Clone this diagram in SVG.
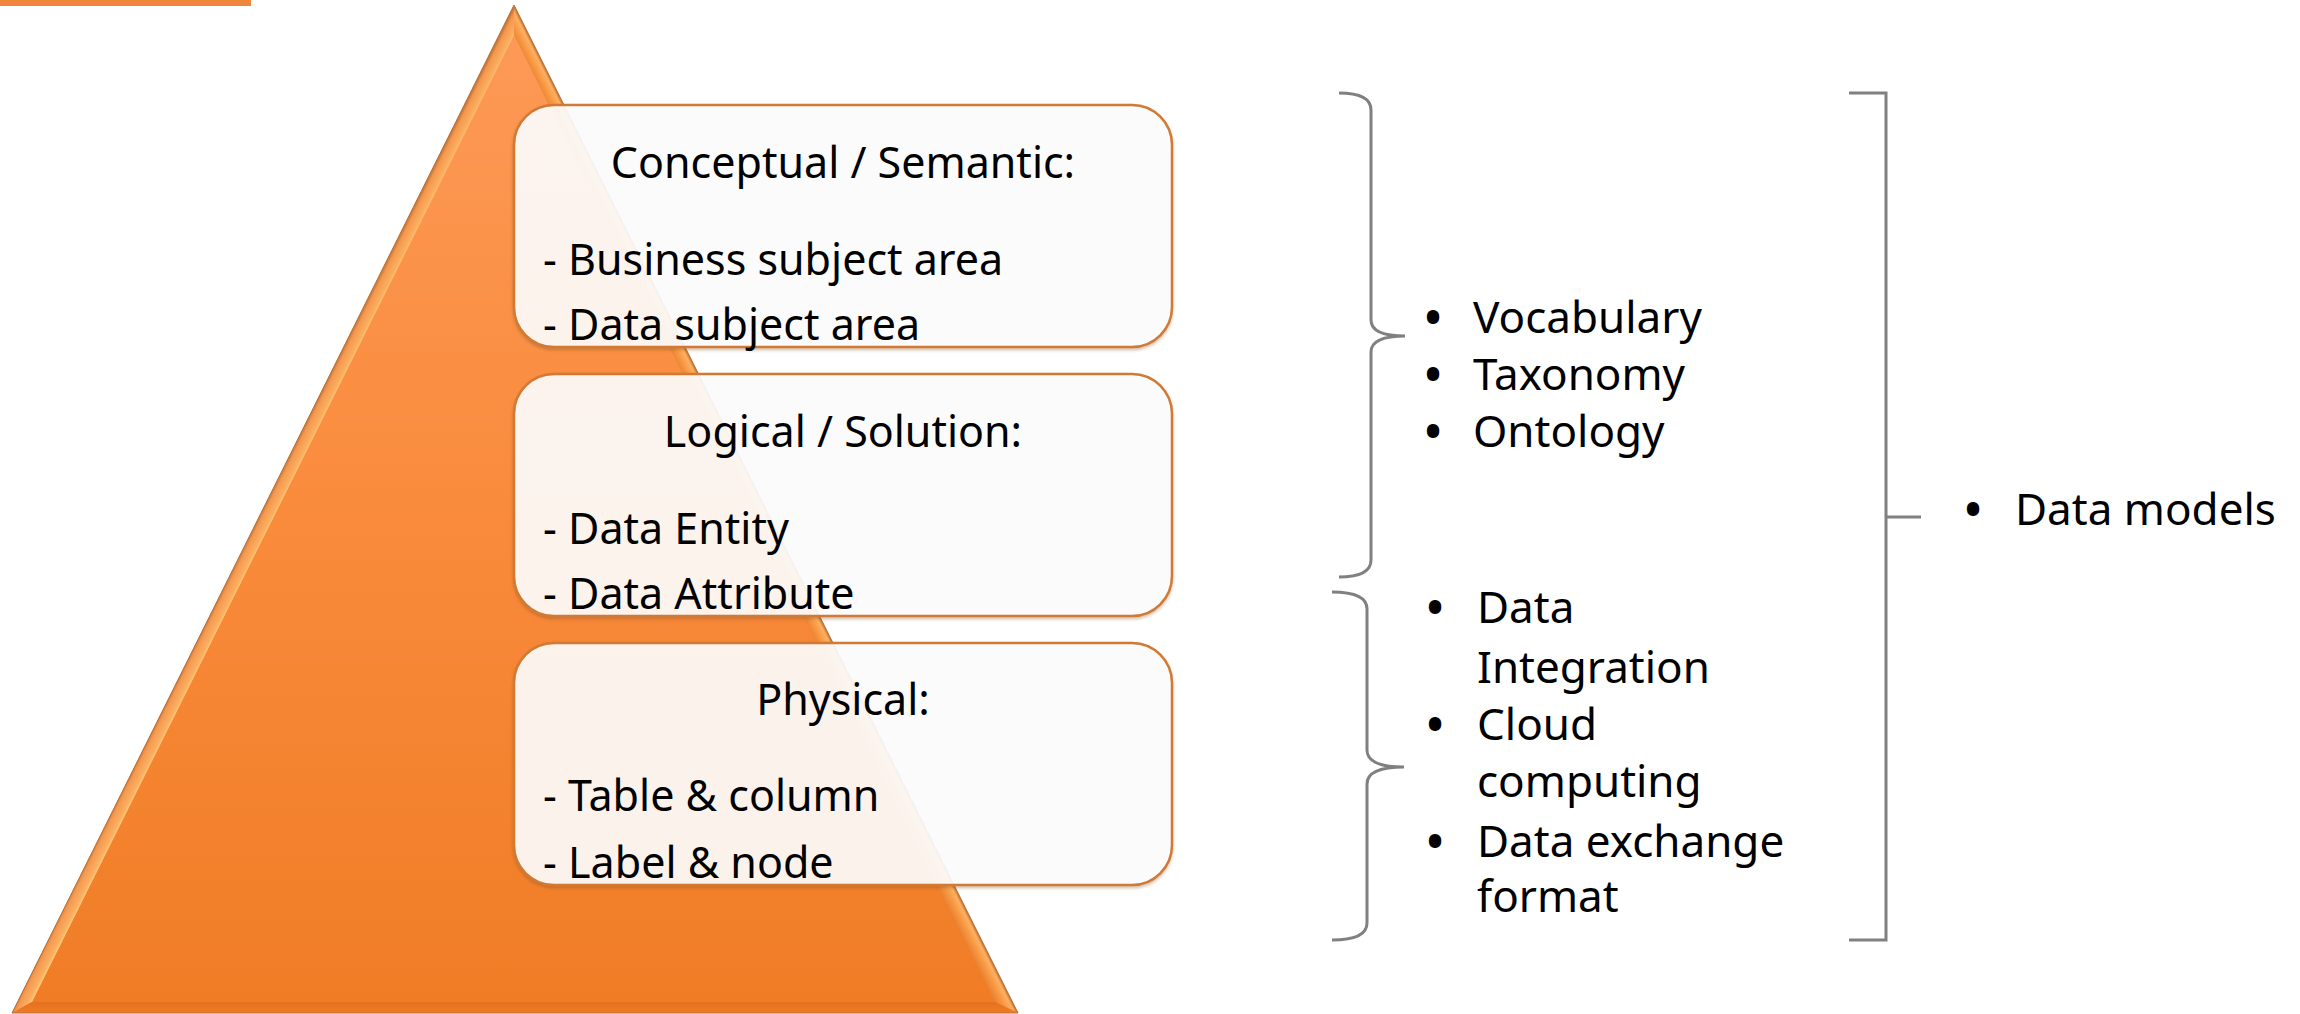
<svg xmlns="http://www.w3.org/2000/svg" width="2300" height="1014" viewBox="0 0 2300 1014">
<defs>
<linearGradient id="triFill" x1="0" y1="0" x2="0" y2="1">
<stop offset="0" stop-color="#FD9A58"/>
<stop offset="0.5" stop-color="#F98B3C"/>
<stop offset="1" stop-color="#F07C25"/>
</linearGradient>
<linearGradient id="bevL" gradientUnits="userSpaceOnUse" x1="263" y1="509" x2="281" y2="518">
<stop offset="0" stop-color="#C8773A"/>
<stop offset="0.15" stop-color="#F4984F"/>
<stop offset="0.55" stop-color="#FBB060"/>
<stop offset="0.8" stop-color="#FFE394"/>
<stop offset="1" stop-color="#F9963F"/>
</linearGradient>
<linearGradient id="bevR" gradientUnits="userSpaceOnUse" x1="766" y1="509" x2="748" y2="518">
<stop offset="0" stop-color="#B86E34"/>
<stop offset="0.15" stop-color="#FFB060"/>
<stop offset="0.5" stop-color="#F59440"/>
<stop offset="1" stop-color="#E07428"/>
</linearGradient>
<linearGradient id="bevB" x1="0" y1="0" x2="0" y2="1">
<stop offset="0" stop-color="#E3711E"/>
<stop offset="1" stop-color="#EE7C26"/>
</linearGradient>
<filter id="sh" x="-5%" y="-5%" width="110%" height="115%">
<feDropShadow dx="0" dy="2" stdDeviation="1.5" flood-color="#7a4a20" flood-opacity="0.35"/>
</filter>
</defs>
<style>
.box{fill:#FFFFFF;fill-opacity:0.89;stroke:#D07A34;stroke-width:2.5}
.t{font-family:"Noto Sans","Open Sans","Liberation Sans",sans-serif;fill:#000;font-size:43px}
.r{font-family:"Noto Sans","Open Sans","Liberation Sans",sans-serif;fill:#000;font-size:44px}
.b{font-family:"Noto Sans","Open Sans","Liberation Sans",sans-serif;fill:#000;font-size:44px;font-weight:700}
.br{fill:none;stroke:#808080;stroke-width:3}
</style>
<rect x="0" y="0" width="251" height="6" fill="#F0853C"/>
<g id="pyramid">
<polygon points="514,5 1018,1013 12,1013" fill="url(#triFill)"/>
<polygon points="514,5 514,35 32,1002 12,1013" fill="url(#bevL)"/>
<polygon points="514,5 1018,1013 995,1002 514,35" fill="url(#bevR)"/>
<polygon points="12,1013 32,1002 995,1002 1018,1013" fill="url(#bevB)"/>
<polygon points="514,5 1018,1013 12,1013" fill="none" stroke="#B8733A" stroke-width="1"/>
</g>
<g id="node-conceptual">
<rect class="box" x="514" y="105" width="658" height="242" rx="40" filter="url(#sh)"/>
<text class="t" x="843" y="178" text-anchor="middle">Conceptual / Semantic:</text>
<text class="t" x="543" y="275">- Business subject area</text>
<text class="t" x="543" y="340">- Data subject area</text>
</g>
<g id="node-logical">
<rect class="box" x="514" y="374" width="658" height="242" rx="40" filter="url(#sh)"/>
<text class="t" x="843" y="447" text-anchor="middle">Logical / Solution:</text>
<text class="t" x="543" y="544">- Data Entity</text>
<text class="t" x="543" y="609">- Data Attribute</text>
</g>
<g id="node-physical">
<rect class="box" x="514" y="643" width="658" height="242" rx="40" filter="url(#sh)"/>
<text class="t" x="843" y="715" text-anchor="middle">Physical:</text>
<text class="t" x="543" y="811">- Table &amp; column</text>
<text class="t" x="543" y="878">- Label &amp; node</text>
</g>
<g id="connectors">
<path class="br" d="M1339,93 Q1371,93 1371,110 L1371,320 Q1371,336 1405,336 Q1371,336 1371,352 L1371,560 Q1371,577 1339,577"/>
<path class="br" d="M1332,592 Q1367,592 1367,609 L1367,750 Q1367,767 1404,767 Q1367,767 1367,784 L1367,923 Q1367,940 1332,940"/>
<path class="br" d="M1849,93 L1886,93 L1886,940 L1849,940"/>
<path class="br" d="M1886,517 L1921,517"/>
</g>
<g id="list-semantic">
<text class="b" x="1433" y="333" text-anchor="middle">•</text>
<text class="r" x="1473" y="333">Vocabulary</text>
<text class="b" x="1433" y="390" text-anchor="middle">•</text>
<text class="r" x="1473" y="390">Taxonomy</text>
<text class="b" x="1433" y="447" text-anchor="middle">•</text>
<text class="r" x="1473" y="447">Ontology</text>
</g>
<g id="list-technical">
<text class="b" x="1435" y="623" text-anchor="middle">•</text>
<text class="r" x="1477" y="623">Data</text>
<text class="r" x="1477" y="683">Integration</text>
<text class="b" x="1435" y="740" text-anchor="middle">•</text>
<text class="r" x="1477" y="740">Cloud</text>
<text class="r" x="1477" y="797">computing</text>
<text class="b" x="1435" y="857" text-anchor="middle">•</text>
<text class="r" x="1477" y="857">Data exchange</text>
<text class="r" x="1477" y="912">format</text>
</g>
<g id="node-datamodels">
<text class="b" x="1973" y="525" text-anchor="middle">•</text>
<text class="r" x="2015" y="525">Data models</text>
</g>
</svg>
